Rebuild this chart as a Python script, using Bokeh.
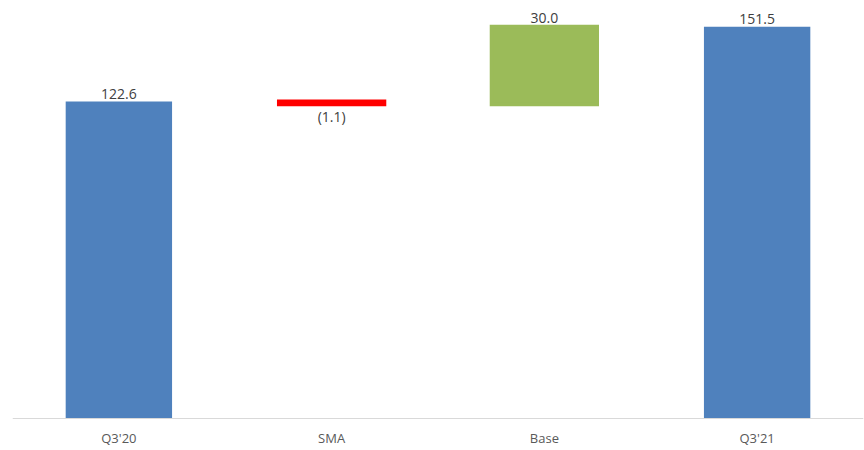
from bokeh.plotting import figure
from bokeh.models import ColumnDataSource, FactorRange, Range1d, Span
from bokeh.core.properties import value
from bokeh.embed import file_html
from bokeh.resources import INLINE

categories = ["Q3'20", "SMA", "Base", "Q3'21"]
values = [122.6, -1.1, 30.0, 151.5]
kinds = ["total", "delta", "delta", "total"]

bottoms, tops, colors, labels, label_y, baselines, offsets = [], [], [], [], [], [], []
running = 0.0
for c, v, k in zip(categories, values, kinds):
    if k == "total":
        b, t = 0.0, v
        running = v
        col = "#4F81BD"
    else:
        b, t = (running, running + v) if v >= 0 else (running + v, running)
        running += v
        col = "#9BBB59" if v >= 0 else "#FF0000"
    bottoms.append(b)
    tops.append(t)
    colors.append(col)
    labels.append(f"{v:.1f}" if v >= 0 else f"({abs(v):.1f})")
    if v >= 0:
        label_y.append(t); baselines.append("bottom"); offsets.append(-3 if k == "total" else -4)
    else:
        label_y.append(b); baselines.append("top"); offsets.append(3)

src = ColumnDataSource(dict(x=categories, bottom=bottoms, top=tops, color=colors,
                            label=labels, ly=label_y, base=baselines, off=offsets))

# frame covers the whole window; value 0 sits at 418 px from the top
px_per_unit = 317 / 122.6
y_start = -32 / px_per_unit
y_end = 418 / px_per_unit

p = figure(x_range=FactorRange(*categories, range_padding=0), y_range=Range1d(y_start, y_end),
           width=864, height=450, output_backend="svg", toolbar_location=None,
           min_border_left=12, min_border_right=1, min_border_top=0, min_border_bottom=0)
p.outline_line_color = None
p.background_fill_color = "white"
p.border_fill_color = "white"
p.xaxis.visible = False
p.yaxis.visible = False
p.xgrid.visible = False
p.ygrid.visible = False

totals = ColumnDataSource(dict(x=[c for c, k in zip(categories, kinds) if k == "total"],
                               bottom=[b for b, k in zip(bottoms, kinds) if k == "total"],
                               top=[t for t, k in zip(tops, kinds) if k == "total"],
                               color=[c for c, k in zip(colors, kinds) if k == "total"]))
deltas = ColumnDataSource(dict(x=[c for c, k in zip(categories, kinds) if k == "delta"],
                               bottom=[b for b, k in zip(bottoms, kinds) if k == "delta"],
                               top=[t for t, k in zip(tops, kinds) if k == "delta"],
                               color=[c for c, k in zip(colors, kinds) if k == "delta"]))
p.vbar(x="x", bottom="bottom", top="top", width=0.5, fill_color="color",
       line_color=None, source=totals)
p.vbar(x="x", bottom="bottom", top="top", width=0.495, fill_color="color",
       line_color="color", line_width=4, line_join="miter", source=deltas)

# baseline (category axis line)
p.add_layout(Span(location=0, dimension="width", line_color="#D9D9D9", line_width=1))

p.text(x="x", y="ly", text="label", text_align="center", text_baseline="base",
       y_offset="off", text_font=value("Open Sans"), text_font_size="14px",
       text_color="#404040", source=src)

cat_src = ColumnDataSource(dict(x=categories, y=[-19 / px_per_unit] * len(categories)))
p.text(x="x", y="y", text="x", text_align="center", text_baseline="middle",
       text_font=value("Open Sans"), text_font_size="13px", text_color="#595959",
       source=cat_src)

open("out.html", "w").write(file_html(p, INLINE))
